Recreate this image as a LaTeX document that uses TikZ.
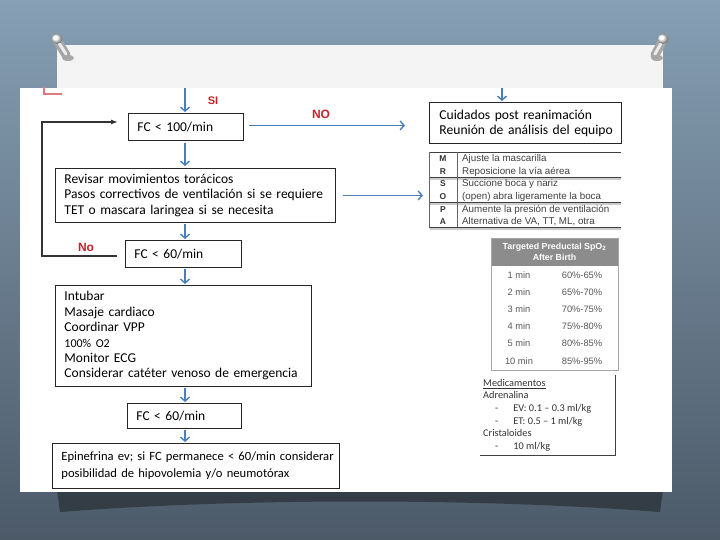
\documentclass[tikz,border=0pt]{standalone}
\usepackage{fontspec}
\setmainfont{Carlito}
\newfontfamily\arial{Liberation Sans}
\usetikzlibrary{arrows.meta}
\definecolor{azul}{RGB}{74,126,187}
\definecolor{rojo}{RGB}{200,32,40}
\definecolor{fondoA}{RGB}{134,159,180}
\definecolor{fondoB}{RGB}{76,90,104}
\definecolor{papel}{RGB}{244,244,244}
\definecolor{cabecera}{RGB}{140,140,140}
\begin{document}
\begin{tikzpicture}[x=1pt,y=-1pt,
  caja/.style={draw=black!85,line width=0.9pt,fill=white,anchor=north west,align=left,
    inner xsep=9pt,inner ysep=0pt,font=\fontsize{13.5}{15.4}\selectfont},
  flecha/.style={draw=azul,line width=1.4pt,-{Straight Barb[length=4pt,width=9pt]}},
  lazo/.style={draw=black!80,line width=1.5pt,-{Latex[length=7pt,width=5pt]}},
  etiq/.style={text=rojo,font=\arial\bfseries\fontsize{11}{13}\selectfont},
  letra/.style={anchor=base,font=\arial\bfseries\fontsize{8.5}{9}\selectfont,text=black!80},
  desc/.style={anchor=base west,font=\arial\fontsize{9.8}{10}\selectfont,text=black!75,inner sep=0pt},
  sat/.style={anchor=base,font=\arial\fontsize{9.3}{10}\selectfont,text=black!65}]
\useasboundingbox (0,0) rectangle (720,540);
% fondo, hoja y chinchetas
\shade[top color=fondoA,bottom color=fondoB] (0,0) rectangle (720,540);
\fill[black,opacity=0.35] (57,490) -- (663,490) -- (660,512) .. controls (480,498) and (240,498) .. (60,512) -- cycle;
\fill[papel] (57,45) rectangle (663,490);
\fill[white] (20,88) rectangle (672,492);
\foreach \a/\b in {57/66,663/655}{
  \fill[black,opacity=0.3] (\b+2,58) ellipse (6 and 3);
  \draw[gray!70,line width=9pt,line cap=round] (\a,40) -- (\b,55);
  \draw[white!85!gray,line width=3pt,line cap=round] (\a,40) -- (\b,54);
  \shade[ball color=white] (\a,39) ellipse (5.5 and 5);}
\draw[rojo!60,line width=1.2pt] (44,87) -- (44,94) -- (62,94);
% columna principal
\node[caja,text width=97pt,minimum height=27pt] (fc100) at (128,113) {FC < 100/min};
\node[caja,text width=262pt,minimum height=54pt] (revisar) at (55,168)
  {Revisar movimientos torácicos\\Pasos correctivos de ventilación si se requiere\\TET o mascara laringea si se necesita};
\node[caja,text width=98pt,minimum height=27pt] (fc60a) at (125,240) {FC < 60/min};
\node[caja,text width=238pt,minimum height=101pt] (intubar) at (55,285)
  {Intubar\\Masaje cardiaco\\Coordinar VPP\\{\fontsize{12}{10}\selectfont 100\% O2}\\Monitor ECG\\Considerar catéter venoso de emergencia};
\node[caja,text width=96pt,minimum height=25pt] (fc60b) at (127,403) {FC < 60/min};
\node[caja,text width=279pt,minimum height=45pt,inner xsep=4pt,font=\fontsize{12.6}{17}\selectfont] (epi) at (52,443)
  {\hspace{5pt}Epinefrina ev; si FC permanece < 60/min considerar\\\hspace{5pt}posibilidad de hipovolemia y/o neumotórax};
\node[caja,text width=180pt,minimum height=41pt,inner xsep=6pt,font=\fontsize{13.6}{15}\selectfont] (cuidados) at (429,102)
  {\hspace{4pt}Cuidados post reanimación\\\hspace{4pt}Reunión de análisis del equipo};
\node[anchor=north west,minimum width=192pt,minimum height=75pt,inner sep=0pt] (sopa) at (429,152) {};
\coordinate (ini) at (185,88);
\coordinate (ini2) at (502,88);
\coordinate (izq) at (42,0);
\coordinate (l1) at ([xshift=-8pt,yshift=-2pt]fc60a.west);
\coordinate (l2) at ([xshift=-10pt,yshift=5pt]fc100.west);
\node[etiq] (si) at (213,101) {SI};
\node[etiq,font=\arial\bfseries\fontsize{12}{13}\selectfont] (no) at (321,114) {NO};
\node[etiq,font=\arial\bfseries\fontsize{12}{13}\selectfont] (no2) at (86,247) {No};
% flechas
\draw[flecha,shorten >=1pt] (ini) -- (ini |- fc100.north);
\draw[flecha,shorten >=1pt] (ini2) -- (ini2 |- cuidados.north);
\draw[flecha,shorten <=2pt,shorten >=2pt] (ini |- fc100.south) -- (ini |- revisar.north);
\draw[flecha,shorten <=1pt,shorten >=1pt] (ini |- revisar.south) -- (ini |- fc60a.north);
\draw[flecha,shorten <=1pt,shorten >=1pt] (ini |- fc60a.south) -- (ini |- intubar.north);
\draw[flecha,shorten <=1pt,shorten >=1pt] (ini |- intubar.south) -- (ini |- fc60b.north);
\draw[flecha,shorten <=1pt,shorten >=1pt] (ini |- fc60b.south) -- (ini |- epi.north);
\draw[flecha,shorten <=5pt,shorten >=24pt] ([yshift=1.5pt]fc100.east) -- ([yshift=1.5pt]fc100.east -| cuidados.west);
\draw[flecha,shorten <=7pt,shorten >=6pt] (revisar.east) -- (revisar.east -| sopa.west);
\draw[lazo] (l1) -- (izq |- l1) -- (izq |- l2) -- (l2);
% tabla MR SOPA
\draw[black!75,line width=0.8pt] (429,152) -- (621,152) (429,177) -- (621,177) (429,202) -- (621,202) (429,227) -- (621,227);
\draw[black!20,line width=1.2pt] (430,229) -- (621,229) (430,204) -- (621,204) (430,179) -- (621,179);
\draw[black!60,line width=0.8pt] (429,152) -- (429,227) (457,152) -- (457,227);
\foreach \l/\t [count=\i from 0] in {M/Ajuste la mascarilla,R/Reposicione la vía aérea,S/Succione boca y nariz,O/(open) abra ligeramente la boca,P/Aumente la presión de ventilación,A/{Alternativa de VA, TT, ML, otra}}{
  \node[letra] at (443,162+12.5*\i) {\l};
  \node[desc] at (462,162+12.5*\i) {\t};}
% tabla SpO2
\fill[cabecera] (491,238) rectangle (618,266);
\draw[black!35,line width=0.8pt] (491,238) rectangle (618,370);
\node[font=\arial\bfseries\fontsize{8.8}{11}\selectfont,text=white,align=center] (spo) at (554.5,252)
  {Targeted Preductal SpO\textsubscript{2}\\After Birth};
\foreach \a/\b [count=\i from 0] in {1 min/60\%-65\%,2 min/65\%-70\%,3 min/70\%-75\%,4 min/75\%-80\%,5 min/80\%-85\%,10 min/85\%-95\%}{
  \node[sat] at (519,278.5+17.1*\i) {\a};
  \node[sat] at (582,278.5+17.1*\i) {\b};}
% medicamentos
\draw[black!75,line width=0.9pt] (615,375) -- (615,455) -- (480,455);
\node[anchor=north west,align=left,inner sep=0pt,font=\fontsize{10.3}{12.6}\selectfont,text=black!80] (med) at (483,379)
  {\underline{Medicamentos}\\Adrenalina\\\hspace{12pt}-\hspace{15pt}EV: 0.1 -- 0.3 ml/kg\\\hspace{12pt}-\hspace{15pt}ET: 0.5 -- 1 ml/kg\\Cristaloides\\\hspace{12pt}-\hspace{15pt}10 ml/kg};
\end{tikzpicture}
\end{document}
